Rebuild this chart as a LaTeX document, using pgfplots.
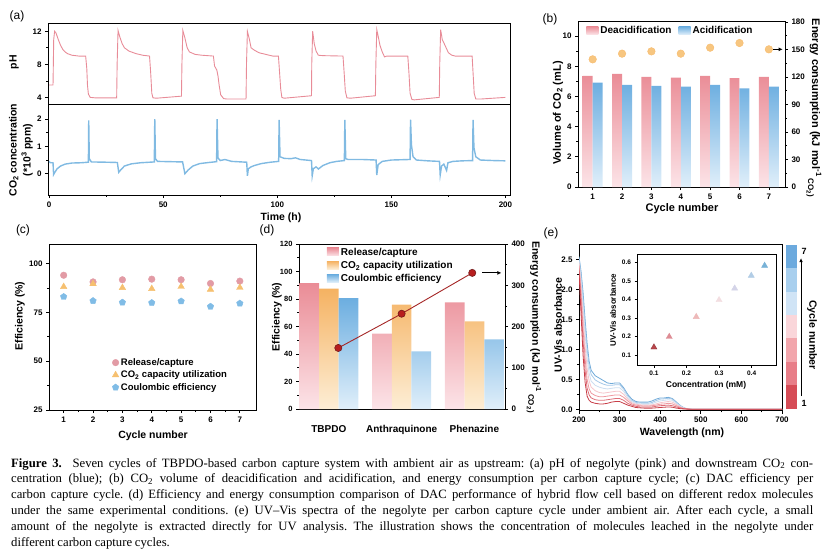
\documentclass[border=0pt]{standalone}
\usepackage{fontspec}
\setmainfont{Liberation Serif}
\setsansfont{Liberation Sans}
\usepackage{pgfplots}
\pgfplotsset{compat=1.18}
\usetikzlibrary{arrows.meta}

\definecolor{phpink}{RGB}{232,140,152}
\definecolor{coblue}{RGB}{128,186,226}
\definecolor{pinkTop}{RGB}{234,140,150}
\definecolor{pinkBot}{RGB}{252,228,232}
\definecolor{blueTop}{RGB}{108,174,224}
\definecolor{blueBot}{RGB}{224,239,250}
\definecolor{oraTop}{RGB}{245,178,98}
\definecolor{oraBot}{RGB}{253,238,214}
\definecolor{edot}{RGB}{247,198,128}
\definecolor{cpink}{RGB}{226,155,165}
\definecolor{corange}{RGB}{246,192,112}
\definecolor{cblue}{RGB}{128,188,230}
\definecolor{dred}{RGB}{165,38,38}
\definecolor{sA}{RGB}{200,62,72}
\definecolor{sB}{RGB}{222,110,120}
\definecolor{sC}{RGB}{238,152,160}
\definecolor{sD}{RGB}{245,196,202}
\definecolor{sE}{RGB}{205,222,240}
\definecolor{sF}{RGB}{165,200,232}
\definecolor{sG}{RGB}{112,170,216}
\definecolor{mA}{RGB}{185,70,75}
\definecolor{mB}{RGB}{222,140,148}
\definecolor{mC}{RGB}{238,185,185}
\definecolor{mD}{RGB}{243,222,225}
\definecolor{mE}{RGB}{212,212,232}
\definecolor{mF}{RGB}{178,205,230}
\definecolor{mG}{RGB}{120,178,215}
\definecolor{bA}{RGB}{214,76,86}
\definecolor{bB}{RGB}{232,126,136}
\definecolor{bC}{RGB}{242,166,172}
\definecolor{bD}{RGB}{250,214,218}
\definecolor{bE}{RGB}{208,228,246}
\definecolor{bF}{RGB}{168,207,238}
\definecolor{bG}{RGB}{108,170,222}

\newcommand\tf{\sffamily\bfseries\fontsize{8}{9}\selectfont}
\newcommand\lf{\sffamily\bfseries\fontsize{10.5}{12}\selectfont}
\newcommand\lfb{\sffamily\bfseries\fontsize{11}{13}\selectfont}
\newcommand\pf{\sffamily\fontsize{12}{14}\selectfont}
\newcommand\capfont{\rmfamily\fontsize{12.7}{15}\selectfont\frenchspacing\spaceskip=0.22em plus 1em minus 0.1em\xspaceskip=\spaceskip\relax}

\pgfplotsset{
  base/.style={scale only axis, anchor=south west,
    axis line style={line width=0.9pt, black},
    every tick/.style={black, line width=0.7pt},
    tick align=outside, major tick length=3pt, minor tick length=1.8pt,
    xtick pos=left, ytick pos=left,
    ticklabel style={font=\tf},
    /pgf/number format/assume math mode=true},
  rightax/.style={axis y line*=right, axis x line=none, ytick pos=right, yticklabel pos=right},
  boxlegend/.style={legend image code/.code={\path[##1, draw=none] (0pt,-3.5pt) rectangle (12pt,4.5pt);}}
}

\begin{document}
\begin{tikzpicture}
\useasboundingbox (0pt,0pt) rectangle (829pt,-552pt);

% ---------------- (a) top: pH
\begin{axis}[base, at={(48pt,-104pt)}, width=462pt, height=81pt,
  xmin=-0.5, xmax=202, ymin=3.2, ymax=13, ytick={4,8,12}, xtick=\empty, minor y tick num=1]
\addplot[phpink, line width=0.9pt] coordinates {
(0,5.5)(1.7,5.5)(2.0,11.0)(2.4,12.0)(3,11.8)(4,11.0)(5,10.3)(6,9.8)(7,9.5)(8,9.3)(10,9.1)(13,9.0)(16,9.0)(16.5,7.5)(16.8,5.5)(17.2,4.4)(18,4.0)(20,3.95)(29.6,3.95)
(29.8,8.0)(30.2,12.1)(31,11.3)(32,10.5)(33,10.0)(35,9.6)(38,9.3)(41,9.1)(44,9.0)(44.5,7.0)(45,4.5)(45.5,3.95)(47,3.9)(58,4.15)
(58.2,8)(58.6,12.1)(59.5,11.2)(60.5,10.0)(61.5,9.5)(64,9.2)(67,9.1)(72,9.0)(72.5,7.8)(73.5,7.3)(74,6.6)(74.5,5.5)(75.2,4.3)(76.5,3.85)(78,3.8)(86.3,3.8)
(86.5,8)(86.9,12.0)(87.8,11.0)(88.5,10.0)(90,9.7)(92,9.4)(95,9.2)(98,9.0)(100.5,9.0)(101,7.0)(101.5,5.0)(102,4.0)(103,3.9)(115,4.2)
(115.1,8)(115.5,12.0)(116.2,10.5)(117,9.6)(118,9.1)(120,9.05)(128.8,9.0)(129.3,7)(129.8,4.8)(130.5,3.95)(132,3.9)(143,4.2)
(143.2,8)(143.6,12.2)(144.3,11.3)(145,10.3)(146,9.5)(147,8.9)(148,9.0)(157.2,9.0)(157.7,7)(158.2,4.5)(159,3.75)(160,3.7)(171,4.0)
(171.2,8)(171.6,12.2)(172.3,11.0)(173,10.6)(174,10.0)(175,9.4)(176.5,9.1)(178,9.0)(185.4,9.0)(185.8,7)(186.3,4.5)(187,3.8)(189,3.8)(200,4.0)
};
\end{axis}

% ---------------- (a) bottom: CO2
\begin{axis}[base, at={(48pt,-195pt)}, width=462pt, height=91pt,
  xmin=-0.5, xmax=202, ymin=-0.78, ymax=2.55, ytick={0,1,2}, xtick={0,50,...,200},
  minor x tick num=1, minor y tick num=1]
\addplot[coblue, line width=1.4pt] coordinates {
(0,0.45)(0.5,0.40)(1.7,0.40)(1.95,-0.03)(2.5,0.05)(3.5,0.18)(5,0.28)(7,0.35)(10,0.39)(14,0.40)(17.2,0.42)(17.35,1.95)(17.6,0.55)(18.5,0.43)(25,0.42)(29.9,0.41)
(30.5,0.05)(31.5,0.15)(33,0.28)(36,0.36)(40,0.40)(46.1,0.43)(46.3,2.0)(46.6,0.55)(47.5,0.45)(53,0.44)(58.5,0.43)
(59.5,0.0)(61,0.14)(63,0.28)(66,0.37)(70,0.41)(73.4,0.44)(73.6,2.0)(74,0.58)(75,0.48)(77,0.52)(80,0.45)(86.6,0.42)
(86.9,-0.08)(87.3,0.18)(88.5,0.25)(90,0.3)(93,0.37)(97,0.42)(100.6,0.45)(100.8,1.97)(101.2,0.62)(103,0.56)(106,0.55)(108,0.58)(110,0.52)(115,0.48)
(115.3,-0.08)(115.8,0.18)(117,0.25)(118,0.17)(120,0.30)(123,0.40)(126,0.45)(129.4,0.48)(129.6,1.97)(130,0.55)(131,0.52)(137,0.52)(143.3,0.50)
(143.6,-0.05)(144.2,0.33)(146,0.45)(150,0.50)(158.2,0.52)(158.4,1.98)(158.8,1.05)(159.5,0.62)(161,0.50)(166,0.47)(171.1,0.45)
(171.4,-0.05)(172,0.28)(173,0.35)(174.2,0.12)(174.8,0.40)(177,0.45)(181,0.47)(185.6,0.48)(185.8,1.97)(186.2,0.95)(187,0.62)(189,0.50)(195,0.48)(200,0.47)
};
\end{axis}

% ---------------- (b) left
\begin{axis}[base, boxlegend, at={(578pt,-187pt)}, width=207pt, height=166pt,
  xmin=0.5, xmax=7.55, ymin=0, ymax=11, xtick={1,...,7}, ytick={0,2,...,10}, minor y tick num=1,
  legend columns=2,
  legend style={at={(0.035,0.985)}, anchor=north west, draw=none, fill=none, inner sep=1pt,
    font=\sffamily\bfseries\fontsize{10}{11}\selectfont,
    /tikz/every even column/.append style={column sep=5pt}}]
\addplot[ybar, bar width=0.34, bar shift=-0.17, draw=none, top color=pinkTop, bottom color=pinkBot]
  coordinates {(1,7.36)(2,7.49)(3,7.29)(4,7.25)(5,7.36)(6,7.22)(7,7.29)};
\addlegendentry{Deacidification}
\addplot[ybar, bar width=0.34, bar shift=0.17, draw=none, top color=blueTop, bottom color=blueBot]
  coordinates {(1,6.92)(2,6.76)(3,6.70)(4,6.65)(5,6.76)(6,6.54)(7,6.65)};
\addlegendentry{Acidification}
\end{axis}
% ---------------- (b) right
\begin{axis}[base, rightax, at={(578pt,-187pt)}, width=207pt, height=166pt,
  xmin=0.5, xmax=7.55, ymin=0, ymax=181,
  ytick={0,30,...,180}, minor y tick num=1]
\addplot[only marks, mark=*, mark size=3.8pt, mark options={fill=edot, draw=edot!85!orange}]
  coordinates {(1,139.2)(2,145.4)(3,147.9)(4,145.4)(5,151.9)(6,157)(7,150.1)};
\draw[-{Latex[length=4pt,width=4pt]}, line width=0.8pt] (axis cs:7.15,150.1) -- (axis cs:7.47,150.1);
\end{axis}

% ---------------- (c)
\begin{axis}[base, at={(49pt,-410pt)}, width=207pt, height=166pt,
  xmin=0.5, xmax=7.55, ymin=25, ymax=110, xtick={1,...,7}, ytick={25,50,75,100},
  minor x tick num=1, minor y tick num=1,
  legend cell align=left,
  legend style={at={(0.30,0.33)}, anchor=north west, draw=none, fill=none, inner sep=1pt,
    font=\sffamily\bfseries\fontsize{9.5}{10.5}\selectfont, row sep=0pt}]
\addplot[only marks, mark=*, mark size=3.3pt, mark options={fill=cpink, draw=cpink}]
  coordinates {(1,94.0)(2,90.6)(3,91.7)(4,92.0)(5,91.7)(6,89.8)(7,91.0)};
\addlegendentry{Release/capture}
\addplot[only marks, mark=triangle*, mark size=3.8pt, mark options={fill=corange, draw=corange}]
  coordinates {(1,88.1)(2,89.6)(3,87.6)(4,87.1)(5,88.2)(6,86.7)(7,87.7)};
\addlegendentry{CO\textsubscript{2} capacity utilization}
\addplot[only marks, mark=pentagon*, mark size=3.4pt, mark options={fill=cblue, draw=cblue}]
  coordinates {(1,83.0)(2,80.9)(3,80.1)(4,79.9)(5,80.7)(6,78.0)(7,79.6)};
\addlegendentry{Coulombic efficiency}
\end{axis}

% ---------------- (d) left
\begin{axis}[base, boxlegend, at={(299pt,-409pt)}, width=206pt, height=165pt,
  xmin=-0.41, xmax=2.42, ymin=0, ymax=120, ytick={0,20,...,120}, minor y tick num=1,
  xtick={0,1,2}, xticklabels={TBPDO,Anthraquinone,Phenazine},
  xtick style={draw=none},
  yticklabel style={font=\sffamily\bfseries\fontsize{7.5}{8}\selectfont},
  xticklabel style={font=\sffamily\bfseries\fontsize{10}{11}\selectfont, yshift=-10pt},
  legend cell align=left,
  legend style={at={(0.13,0.995)}, anchor=north west, draw=none, fill=none, inner sep=1pt,
    font=\sffamily\bfseries\fontsize{10}{11}\selectfont, row sep=0.5pt}]
\addplot[ybar, bar width=0.27, bar shift=-0.27, draw=none, top color=pinkTop, bottom color=pinkBot]
  coordinates {(0,91.6)(1,54.8)(2,77.6)};
\addlegendentry{Release/capture}
\addplot[ybar, bar width=0.27, bar shift=0, draw=none, top color=oraTop, bottom color=oraBot]
  coordinates {(0,87.5)(1,75.9)(2,63.8)};
\addlegendentry{CO\textsubscript{2} capacity utilization}
\addplot[ybar, bar width=0.27, bar shift=0.27, draw=none, top color=blueTop, bottom color=blueBot]
  coordinates {(0,80.7)(1,41.9)(2,50.7)};
\addlegendentry{Coulombic efficiency}
\end{axis}
% ---------------- (d) right
\begin{axis}[base, rightax, at={(299pt,-409pt)}, width=206pt, height=165pt,
  xmin=-0.41, xmax=2.42, ymin=0, ymax=400,
  ytick={0,100,...,400}, minor y tick num=1]
\addplot[dred, line width=0.9pt, mark=*, mark size=3.6pt,
  mark options={fill=dred!80!red, draw=dred!70!black, line width=0.6pt}]
  coordinates {(0.13,148)(1,231)(1.97,330)};
\draw[-{Latex[length=4pt,width=4pt]}, line width=0.8pt] (axis cs:2.11,330) -- (axis cs:2.37,330);
\end{axis}

% ---------------- (e) main
\begin{axis}[base, at={(579pt,-410.5pt)}, width=203pt, height=166pt,
  xmin=200, xmax=700, ymin=-0.02, ymax=2.75, xtick={200,300,...,700}, ytick={0,0.5,...,2.5},
  minor x tick num=1, minor y tick num=1,
  yticklabel style={/pgf/number format/.cd, fixed, fixed zerofill, precision=1}]
\addplot[sG, line width=0.8pt] coordinates {(200,2.55)(205,2.30)(210,1.95)(215,1.50)(220,1.10)(225,0.80)(230,0.65)(240,0.56)(250,0.52)(260,0.48)(270,0.44)(280,0.43)(290,0.44)(300,0.44)(310,0.36)(320,0.25)(330,0.17)(340,0.13)(350,0.12)(360,0.12)(370,0.12)(380,0.14)(390,0.17)(400,0.19)(410,0.19)(420,0.20)(430,0.18)(440,0.12)(450,0.06)(460,0.02)(470,0.008)(480,0)(500,0)(600,0)(700,0)};
\addplot[sF, line width=0.8pt] coordinates {(200,2.52)(205,2.25)(210,1.85)(215,1.40)(220,1.00)(225,0.72)(230,0.58)(240,0.49)(250,0.45)(260,0.42)(270,0.40)(280,0.40)(290,0.41)(300,0.41)(310,0.34)(320,0.23)(330,0.15)(340,0.115)(350,0.105)(360,0.10)(370,0.10)(380,0.115)(390,0.145)(400,0.17)(410,0.175)(420,0.185)(430,0.17)(440,0.11)(450,0.055)(460,0.02)(470,0.007)(480,0)(500,0)(600,0)(700,0)};
\addplot[sE, line width=0.8pt] coordinates {(200,2.48)(205,2.15)(210,1.70)(215,1.25)(220,0.85)(225,0.60)(230,0.47)(240,0.40)(250,0.37)(260,0.35)(270,0.34)(280,0.35)(290,0.36)(300,0.36)(310,0.30)(320,0.20)(330,0.13)(340,0.10)(350,0.09)(360,0.085)(370,0.085)(380,0.095)(390,0.12)(400,0.14)(410,0.15)(420,0.16)(430,0.15)(440,0.10)(450,0.05)(460,0.018)(470,0.006)(480,0)(500,0)(600,0)(700,0)};
\addplot[sD, line width=0.8pt] coordinates {(200,2.45)(205,2.05)(210,1.55)(215,1.05)(220,0.68)(225,0.47)(230,0.37)(240,0.31)(250,0.28)(260,0.27)(270,0.28)(280,0.29)(290,0.30)(300,0.30)(310,0.25)(320,0.17)(330,0.11)(340,0.085)(350,0.075)(360,0.07)(370,0.07)(380,0.075)(390,0.09)(400,0.11)(410,0.12)(420,0.13)(430,0.12)(440,0.08)(450,0.04)(460,0.015)(470,0.005)(480,0)(500,0)(600,0)(700,0)};
\addplot[sC, line width=0.8pt] coordinates {(200,2.40)(205,1.95)(210,1.35)(215,0.85)(220,0.50)(225,0.34)(230,0.27)(240,0.23)(250,0.21)(260,0.21)(270,0.22)(280,0.23)(290,0.24)(300,0.24)(310,0.20)(320,0.14)(330,0.09)(340,0.07)(350,0.06)(360,0.055)(370,0.055)(380,0.06)(390,0.07)(400,0.085)(410,0.09)(420,0.10)(430,0.09)(440,0.06)(450,0.03)(460,0.01)(470,0.004)(480,0)(500,0)(600,0)(700,0)};
\addplot[sB, line width=0.8pt] coordinates {(200,2.35)(205,1.80)(210,1.15)(215,0.65)(220,0.35)(225,0.24)(230,0.19)(240,0.16)(250,0.15)(260,0.15)(270,0.16)(280,0.17)(290,0.18)(300,0.18)(310,0.15)(320,0.10)(330,0.07)(340,0.05)(350,0.04)(360,0.04)(370,0.04)(380,0.04)(390,0.05)(400,0.06)(410,0.065)(420,0.07)(430,0.06)(440,0.04)(450,0.02)(460,0.008)(470,0.003)(480,0)(500,0)(600,0)(700,0)};
\addplot[sA, line width=0.8pt] coordinates {(200,2.30)(205,1.60)(210,0.90)(215,0.45)(220,0.22)(225,0.15)(230,0.12)(240,0.10)(250,0.09)(260,0.09)(270,0.10)(280,0.12)(290,0.13)(300,0.13)(310,0.10)(320,0.07)(330,0.05)(340,0.03)(350,0.025)(360,0.02)(370,0.02)(380,0.02)(390,0.025)(400,0.03)(410,0.035)(420,0.04)(430,0.035)(440,0.02)(450,0.01)(460,0.005)(470,0.002)(480,0)(500,0)(600,0)(700,0)};
\end{axis}

% ---------------- (e) inset
\begin{axis}[base, at={(637pt,-365pt)}, width=139pt, height=111pt,
  axis background/.style={fill=white},
  xmin=0.048, xmax=0.475, ymin=0.046, ymax=0.647, xtick={0.1,0.2,0.3,0.4}, ytick={0.1,0.2,...,0.6},
  ticklabel style={font=\sffamily\bfseries\fontsize{6.5}{7}\selectfont},
  xticklabel style={/pgf/number format/.cd, fixed, fixed zerofill, precision=1},
  yticklabel style={/pgf/number format/.cd, fixed, fixed zerofill, precision=1},
  major tick length=2.5pt]
\addplot[only marks, mark=triangle*, mark size=3.5pt, mark options={fill=mA, draw=mA!80!black}] coordinates {(0.100,0.142)};
\addplot[only marks, mark=triangle*, mark size=3.5pt, mark options={fill=mB, draw=mB}] coordinates {(0.147,0.199)};
\addplot[only marks, mark=triangle*, mark size=3.5pt, mark options={fill=mC, draw=mC}] coordinates {(0.230,0.307)};
\addplot[only marks, mark=triangle*, mark size=3.5pt, mark options={fill=mD, draw=mD}] coordinates {(0.300,0.398)};
\addplot[only marks, mark=triangle*, mark size=3.5pt, mark options={fill=mE, draw=mE}] coordinates {(0.348,0.461)};
\addplot[only marks, mark=triangle*, mark size=3.5pt, mark options={fill=mF, draw=mF}] coordinates {(0.399,0.530)};
\addplot[only marks, mark=triangle*, mark size=3.5pt, mark options={fill=mG, draw=mG}] coordinates {(0.440,0.584)};
\end{axis}

% ---------------- (e) colour bar
\begin{axis}[scale only axis, anchor=south west, at={(786pt,-408.5pt)}, width=11pt, height=163.5pt,
  hide axis, xmin=0, xmax=1, ymin=0, ymax=7]
\addplot[fill=bG, draw=none] coordinates {(0,7)(1,7)} \closedcycle;
\addplot[fill=bF, draw=none] coordinates {(0,6)(1,6)} \closedcycle;
\addplot[fill=bE, draw=none] coordinates {(0,5)(1,5)} \closedcycle;
\addplot[fill=bD, draw=none] coordinates {(0,4)(1,4)} \closedcycle;
\addplot[fill=bC, draw=none] coordinates {(0,3)(1,3)} \closedcycle;
\addplot[fill=bB, draw=none] coordinates {(0,2)(1,2)} \closedcycle;
\addplot[fill=bA, draw=none] coordinates {(0,1)(1,1)} \closedcycle;
\end{axis}

% ---------------- labels
\node[font=\pf] at (17pt,-16pt) {(a)};
\node[font=\pf] at (550pt,-19pt) {(b)};
\node[font=\pf] at (23pt,-230pt) {(c)};
\node[font=\pf] at (267pt,-230pt) {(d)};
\node[font=\pf] at (551pt,-233pt) {(e)};

\node[rotate=90, font=\lf] at (14pt,-62pt) {pH};
\node[rotate=90, font=\lf, align=center] at (21pt,-150pt) {CO\textsubscript{2} concentration\\[2pt](*10\textsuperscript{3} ppm)};
\node[font=\lf] at (281pt,-218pt) {Time (h)};

\node[rotate=90, font=\lfb] at (558pt,-113pt) {Volume of CO\textsubscript{2} (mL)};
\node[rotate=-90, font=\lfb] at (814pt,-108pt) {Energy consumption (kJ mol\textsuperscript{-1}\,\raisebox{-0.7ex}{\fontsize{8}{9}\selectfont CO\textsubscript{2})}};
\node[font=\lfb] at (682pt,-209pt) {Cycle number};

\node[rotate=90, font=\lf] at (20pt,-316pt) {Efficiency (\%)};
\node[font=\lf] at (153pt,-436pt) {Cycle number};

\node[rotate=90, font=\lf] at (277pt,-317pt) {Efficiency (\%)};
\node[rotate=-90, font=\lf] at (534pt,-327pt) {Energy consumption (kJ mol\textsuperscript{-1}\,\raisebox{-0.7ex}{\fontsize{8}{9}\selectfont CO\textsubscript{2})}};

\node[rotate=90, font=\lf] at (558pt,-325pt) {UV-Vis absorbance};
\node[font=\lf] at (682pt,-433pt) {Wavelength (nm)};
\node[rotate=90, font=\sffamily\bfseries\fontsize{8}{9}\selectfont] at (613pt,-310pt) {UV-Vis absorbance};
\node[font=\sffamily\bfseries\fontsize{8.5}{9}\selectfont] at (706pt,-385pt) {Concentration (mM)};

\node[rotate=-90, font=\lf] at (812pt,-335pt) {Cycle number};
\node[font=\sffamily\bfseries\fontsize{9}{10}\selectfont] at (804pt,-251pt) {7};
\node[font=\sffamily\bfseries\fontsize{9}{10}\selectfont] at (804pt,-403pt) {1};
\draw[-{Latex[length=4pt,width=3.5pt]}, line width=0.8pt] (801pt,-396pt) -- (801pt,-258pt);

% ---------------- caption
\node[anchor=base west, inner sep=0pt] at (11pt,-467pt) {\capfont\hbox to 802pt{\textbf{Figure 3.}\ \ Seven cycles of TBPDO-based carbon capture system with ambient air as upstream: (a) pH of negolyte (pink) and downstream CO\textsubscript{2} con-}};
\node[anchor=base west, inner sep=0pt] at (11pt,-482.9pt) {\capfont\hbox to 802pt{centration (blue); (b) CO\textsubscript{2} volume of deacidification and acidification, and energy consumption per carbon capture cycle; (c) DAC efficiency per}};
\node[anchor=base west, inner sep=0pt] at (11pt,-498.8pt) {\capfont\hbox to 802pt{carbon capture cycle. (d) Efficiency and energy consumption comparison of DAC performance of hybrid flow cell based on different redox molecules}};
\node[anchor=base west, inner sep=0pt] at (11pt,-514.7pt) {\capfont\hbox to 802pt{under the same experimental conditions. (e) UV--Vis spectra of the negolyte per carbon capture cycle under ambient air. After each cycle, a small}};
\node[anchor=base west, inner sep=0pt] at (11pt,-530.6pt) {\capfont\hbox to 802pt{amount of the negolyte is extracted directly for UV analysis. The illustration shows the concentration of molecules leached in the negolyte under}};
\node[anchor=base west, inner sep=0pt] at (11pt,-546.5pt) {\capfont different carbon capture cycles.};
\end{tikzpicture}
\end{document}
